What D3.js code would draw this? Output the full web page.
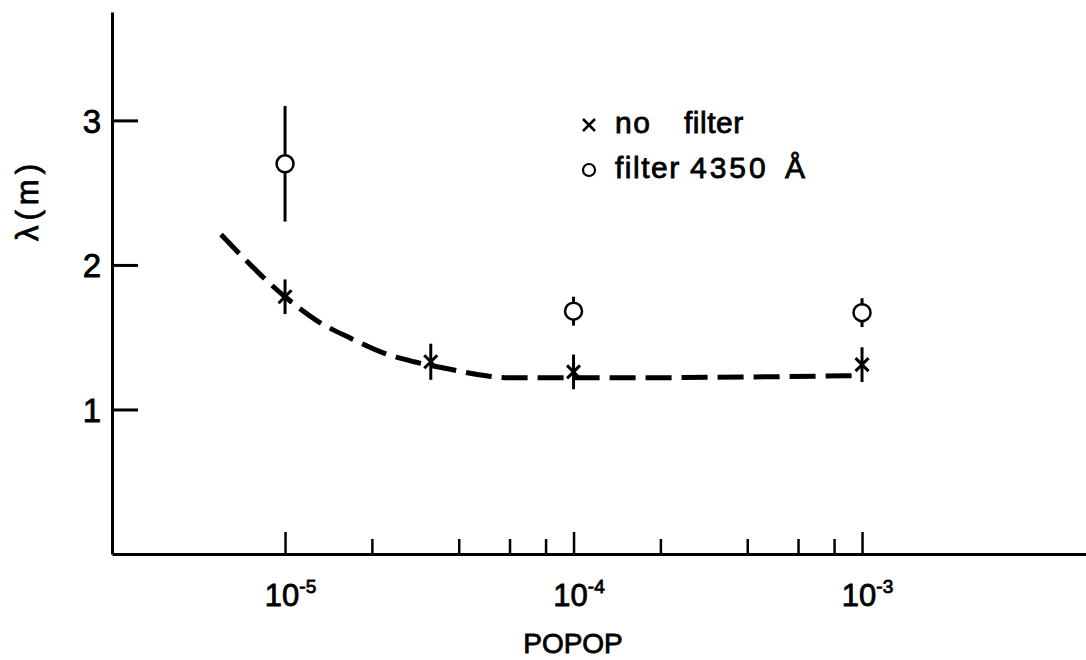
<!DOCTYPE html>
<html>
<head>
<meta charset="utf-8">
<script src="https://cdn.jsdelivr.net/npm/d3@7"></script>
<style>
body { margin: 0; background: #fff; }
svg { display: block; background: #fff; font-family: "Liberation Sans", Arial, sans-serif; }
svg text { stroke: #000; stroke-width: 0.8px; fill: #000; }
</style>
</head>
<body>
<svg width="1086" height="660"></svg>
<script>
// POPOP concentration vs attenuation length
const noFilterConc = [1e-5, 3.2e-5, 1e-4, 1e-3];
const noFilterLambda = [1.78, 1.33, 1.26, 1.31];
const noFilterErr = [0.12, 0.125, 0.12, 0.12];

const filterConc = [1e-5, 1e-4, 1e-3];
const filterLambda = [2.70, 1.68, 1.67];
const filterErr = [0.40, 0.10, 0.10];

// hand drawn dashed trend through the "no filter" points
const curveConc = [6e-6, 1e-5, 1.3e-5, 1.7e-5, 2.2e-5, 2.8e-5, 3.7e-5, 4.7e-5, 6e-5, 1e-4, 2e-4, 4e-4, 7e-4, 1e-3];
const curveLambda = [2.21, 1.78, 1.61, 1.49, 1.39, 1.33, 1.28, 1.24, 1.22, 1.22, 1.22, 1.225, 1.23, 1.235];

const yTicks = [1, 2, 3];
const xMajor = [1e-5, 1e-4, 1e-3];
const xMinor = [2e-5, 4e-5, 6e-5, 8e-5, 2e-4, 4e-4, 6e-4, 8e-4];
const xExponents = ["-5", "-4", "-3"];

const svg = d3.select("svg");

const x = d3.scaleLog().domain([2.513e-6, 5.975e-3]).range([112, 1086]);
const y = d3.scaleLinear().domain([0, 3.75]).range([554, 12]);

// y axis, ticks pointing inward
const yAxis = svg.append("g")
    .attr("transform", "translate(112,0)")
    .call(d3.axisLeft(y).tickValues(yTicks).tickSize(-26).tickSizeOuter(0)
        .tickPadding(11).tickFormat(d3.format("d")));
yAxis.selectAll("path, line").attr("stroke", "#000").attr("stroke-width", 3);
yAxis.selectAll("text").attr("font-size", 33).attr("font-family", null).attr("dy", "0.36em");

// x axis, major ticks
const xAxis = svg.append("g")
    .attr("transform", `translate(0,${y(0)})`)
    .call(d3.axisBottom(x).tickValues(xMajor).tickSize(-22).tickSizeOuter(0)
        .tickPadding(30).tickFormat(""));
xAxis.selectAll("path, line").attr("stroke", "#000").attr("stroke-width", 3);
xAxis.selectAll("line").attr("stroke-width", 2.5);
xAxis.selectAll("text")
    .attr("font-size", 31).attr("font-family", null)
    .attr("dx", 5)
    .each(function (d, i) {
        const t = d3.select(this);
        t.append("tspan").text("10");
        t.append("tspan").attr("font-size", 19).attr("dy", -13).text(xExponents[i]);
    });

// minor ticks
const xMinorAxis = svg.append("g")
    .attr("transform", `translate(0,${y(0)})`)
    .call(d3.axisBottom(x).tickValues(xMinor).tickSize(-15).tickFormat(""));
xMinorAxis.select(".domain").remove();
xMinorAxis.selectAll("line").attr("stroke", "#000").attr("stroke-width", 2.5);

// axis titles
svg.append("text")
    .attr("x", 573).attr("y", 653)
    .attr("text-anchor", "middle")
    .attr("font-size", 28)
    .text("POPOP");

svg.append("text")
    .attr("transform", "translate(38,200) rotate(-90)")
    .attr("text-anchor", "middle")
    .attr("font-size", 31)
    .attr("letter-spacing", 5)
    .text("λ(m)");

// dashed curve
const curveData = curveConc.map((c, i) => ({ c, v: curveLambda[i] }));
svg.append("path")
    .datum(curveData)
    .attr("fill", "none")
    .attr("stroke", "#000")
    .attr("stroke-width", 5)
    .attr("stroke-dasharray", "26 10")
    .attr("d", d3.line().x(d => x(d.c)).y(d => y(d.v)).curve(d3.curveMonotoneX));

// no filter points: crosses with error bars
const noFilter = noFilterConc.map((c, i) => ({ c, v: noFilterLambda[i], e: noFilterErr[i] }));
const crosses = svg.append("g").attr("stroke", "#000").attr("fill", "none");
crosses.selectAll(".err")
    .data(noFilter)
    .enter().append("line")
    .attr("x1", d => x(d.c)).attr("x2", d => x(d.c))
    .attr("y1", d => y(d.v + d.e)).attr("y2", d => y(d.v - d.e))
    .attr("stroke-width", 3);
crosses.selectAll(".mark")
    .data(noFilter)
    .enter().append("path")
    .attr("stroke-width", 3)
    .attr("d", d => {
        const cx = x(d.c), cy = y(d.v), s = 6.5;
        return `M${cx - s},${cy - s}L${cx + s},${cy + s}M${cx - s},${cy + s}L${cx + s},${cy - s}`;
    });

// filter points: open circles with error bars
const filter = filterConc.map((c, i) => ({ c, v: filterLambda[i], e: filterErr[i] }));
const circles = svg.append("g").attr("stroke", "#000");
circles.selectAll(".err")
    .data(filter)
    .enter().append("line")
    .attr("x1", d => x(d.c)).attr("x2", d => x(d.c))
    .attr("y1", d => y(d.v + d.e)).attr("y2", d => y(d.v - d.e))
    .attr("stroke-width", 3);
circles.selectAll("circle")
    .data(filter)
    .enter().append("circle")
    .attr("cx", d => x(d.c)).attr("cy", d => y(d.v))
    .attr("r", 8.5)
    .attr("fill", "#fff")
    .attr("stroke-width", 2.5);

// legend
const legend = svg.append("g").attr("font-size", 30).attr("letter-spacing", 1.5);
legend.append("path")
    .attr("d", "M583,119L595,131M583,131L595,119")
    .attr("stroke", "#000").attr("stroke-width", 2.5);
legend.append("text").attr("x", 615).attr("y", 133).text("no");
legend.append("text").attr("x", 684).attr("y", 133).attr("letter-spacing", 0.5).text("filter");
legend.append("circle")
    .attr("cx", 589).attr("cy", 170).attr("r", 6)
    .attr("fill", "none").attr("stroke", "#000").attr("stroke-width", 2.2);
legend.append("text").attr("x", 615).attr("y", 178).text("filter");
legend.append("text").attr("x", 690).attr("y", 178).attr("letter-spacing", 3).text("4350");
legend.append("text").attr("x", 785).attr("y", 178).text("Å");
</script>
</body>
</html>
